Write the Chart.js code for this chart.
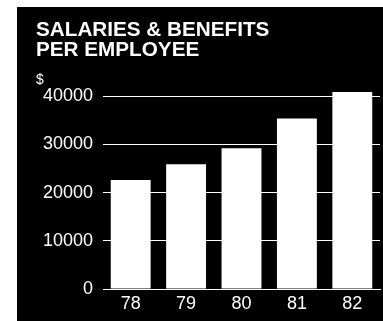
<!DOCTYPE html>
<html>
<head>
<meta charset="utf-8">
<script src="https://cdn.jsdelivr.net/npm/chart.js@4"></script>
<style>
  body { margin: 0; background: #fff; }
  #wrap { width: 383px; height: 321px; position: relative; }
</style>
</head>
<body>
<div id="wrap"><canvas id="salaryChart"></canvas></div>
<script>
const years = ['78', '79', '80', '81', '82'];
const salaries = [22600, 25900, 29200, 35400, 40900];
const yTicks = [0, 10000, 20000, 30000, 40000];

const FONT = "'Liberation Sans', Arial, sans-serif";

// paint the white page and the black panel behind the chart
const panelBackground = {
    id: 'panelBackground',
    beforeDraw(chart) {
        const ctx = chart.ctx;
        ctx.save();
        ctx.fillStyle = '#fff';
        ctx.fillRect(0, 0, chart.width, chart.height);
        ctx.fillStyle = '#000';
        ctx.fillRect(17, 7, chart.width - 17, chart.height - 7);
        ctx.restore();
    }
};

const ctx = document.getElementById('salaryChart').getContext('2d');
new Chart(ctx, {
    type: 'bar',
    data: {
        labels: years,
        datasets: [{
            data: salaries,
            backgroundColor: '#fff',
            borderWidth: 0,
            barPercentage: 0.72,
            categoryPercentage: 1
        }]
    },
    options: {
        responsive: true,
        maintainAspectRatio: false,
        animation: false,
        layout: { padding: { top: 20, left: 36, right: 3, bottom: 2.4 } },
        plugins: {
            legend: { display: false },
            tooltip: { enabled: false },
            title: {
                display: true,
                text: ['SALARIES & BENEFITS', 'PER EMPLOYEE'],
                align: 'start',
                color: '#fff',
                font: { family: FONT, size: 20.7, weight: 'bold', lineHeight: 0.97 },
                padding: { top: 0, bottom: 6 }
            },
            subtitle: {
                display: true,
                text: '$',
                align: 'start',
                color: '#fff',
                font: { family: FONT, size: 14, lineHeight: 1.0 },
                padding: { top: 6.5, bottom: 0 }
            }
        },
        scales: {
            x: {
                grid: { display: false, drawTicks: false },
                border: { display: true, color: '#fff', width: 1 },
                ticks: { color: '#fff', padding: 4, font: { family: FONT, size: 18 } }
            },
            y: {
                min: 0,
                max: 42000,
                afterBuildTicks: (axis) => {
                    axis.ticks = yTicks.map((v) => ({ value: v }));
                },
                afterFit: (axis) => { axis.width = 67; },
                grid: { color: '#fff', lineWidth: 1, drawTicks: false },
                border: { display: false },
                ticks: {
                    color: '#fff',
                    padding: 10,
                    font: { family: FONT, size: 18 },
                    callback: (value) => String(value)
                }
            }
        }
    },
    plugins: [panelBackground]
});
</script>
</body>
</html>
